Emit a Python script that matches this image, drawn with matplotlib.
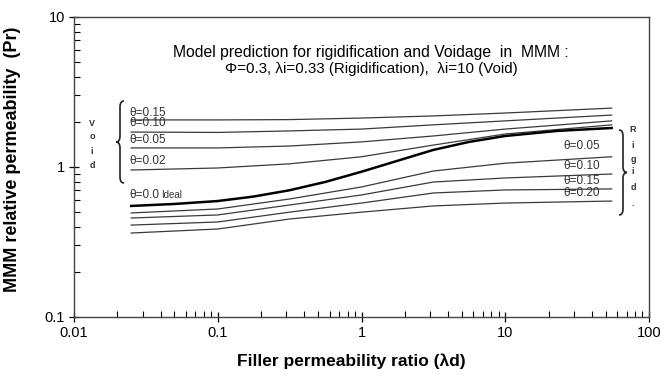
import matplotlib
matplotlib.use("Agg")
import numpy as np
import matplotlib.pyplot as plt
from matplotlib.path import Path
from matplotlib.patches import PathPatch
from matplotlib.transforms import IdentityTransform
from matplotlib.ticker import LogLocator, NullFormatter, FixedFormatter, FixedLocator

plt.rcParams['font.family'] = ['Liberation Sans', 'DejaVu Sans']

# filler permeability ratio (x) shared by the theta curves
lam_d = [0.025, 0.1, 0.316, 1.0, 3.16, 10.0, 55.0]

# voidage curves (theta)
void_theta = ['0.15', '0.10', '0.05', '0.02']
void_pr = [
    [2.06, 2.06, 2.07, 2.12, 2.19, 2.29, 2.47],
    [1.71, 1.70, 1.74, 1.79, 1.91, 2.03, 2.22],
    [1.34, 1.34, 1.38, 1.47, 1.61, 1.79, 2.03],
    [0.955, 0.985, 1.05, 1.17, 1.40, 1.66, 1.91],
]

# ideal (theta = 0), read at more points
lam_ideal = [0.025, 0.05, 0.1, 0.177, 0.316, 0.56, 1.0, 1.78, 3.16, 5.6, 10.0, 23.0, 55.0]
ideal_pr = [0.55, 0.567, 0.593, 0.635, 0.70, 0.795, 0.93, 1.10, 1.30, 1.47, 1.61, 1.74, 1.82]

# rigidification curves (theta)
rigid_theta = ['0.05', '0.10', '0.15', '0.20']
rigid_pr = [
    [0.494, 0.525, 0.612, 0.736, 0.94, 1.06, 1.17],
    [0.457, 0.479, 0.558, 0.651, 0.794, 0.845, 0.898],
    [0.41, 0.43, 0.50, 0.575, 0.671, 0.703, 0.714],
    [0.363, 0.386, 0.45, 0.50, 0.55, 0.575, 0.593],
]

W, H = 665, 376
fig = plt.figure(figsize=(W / 100, H / 100), dpi=100)
ax = fig.add_axes([74 / W, 1 - 317 / H, (649 - 74) / W, (317 - 17) / H])

for pr in void_pr:
    ax.plot(lam_d, pr, color='#3a3a3a', lw=0.9)
ax.plot(lam_ideal, ideal_pr, color='black', lw=1.8)
for pr in rigid_pr:
    ax.plot(lam_d, pr, color='#3a3a3a', lw=0.9)

ax.set_xscale('log')
ax.set_yscale('log')
ax.set_xlim(0.01, 100)
ax.set_ylim(0.1, 10)

ax.xaxis.set_major_locator(FixedLocator([0.01, 0.1, 1, 10, 100]))
ax.xaxis.set_major_formatter(FixedFormatter(['0.01', '0.1', '1', '10', '100']))
ax.yaxis.set_major_locator(FixedLocator([0.1, 1, 10]))
ax.yaxis.set_major_formatter(FixedFormatter(['0.1', '1', '10']))
for a in (ax.xaxis, ax.yaxis):
    a.set_minor_locator(LogLocator(base=10, subs=np.arange(2, 10)))
    a.set_minor_formatter(NullFormatter())
ax.tick_params(which='major', direction='inout', length=7, width=0.9, labelsize=10.5,
               top=False, right=False, pad=3)
ax.tick_params(which='minor', direction='in', length=4, width=0.8, top=False, right=False)
for s in ax.spines.values():
    s.set_linewidth(1.0)
    s.set_color('#444444')

ax.set_xlabel('Filler permeability ratio (λd)', fontsize=12.5, fontweight='bold')
ax.xaxis.set_label_coords(0.482, -0.122)
ax.set_ylabel('MMM relative permeability  (Pr)', fontsize=13, fontweight='bold')
ax.yaxis.set_label_coords(-0.093, 0.527)

# title block
ax.text(0.517, 0.883, 'Model prediction for rigidification and Voidage  in  MMM :',
        transform=ax.transAxes, ha='center', va='center', fontsize=11.3)
ax.text(0.517, 0.828, 'Φ=0.3, λi=0.33 (Rigidification),  λi=10 (Void)',
        transform=ax.transAxes, ha='center', va='center', fontsize=10.9)

px = IdentityTransform()
lab_col = '#333333'

# left labels (void)
for t, y in zip(void_theta, [112.5, 123.5, 140, 161]):
    fig.text(129 / W, 1 - y / H, 'θ=' + t, ha='left', va='center', fontsize=8.5, color=lab_col)
fig.text(129 / W, 1 - 195 / H, 'θ=0.0', ha='left', va='center', fontsize=8.5, color=lab_col)
fig.text(161 / W, 1 - 195 / H, 'Ideal', ha='left', va='center', fontsize=7, color=lab_col)

# right labels (rigid)
for t, y in zip(rigid_theta, [146, 166, 181, 193]):
    fig.text(563 / W, 1 - y / H, 'θ=' + t, ha='left', va='center', fontsize=8.5, color=lab_col)

# vertical words
for ch, y in zip('Void', [123, 137, 151, 166]):
    fig.text(92 / W, 1 - y / H, ch, ha='center', va='center', fontsize=6.5,
             fontweight='bold', color=lab_col)
for ch, y in zip('Rigid.', [130, 145, 159, 172, 187, 203]):
    fig.text(633 / W, 1 - y / H, ch, ha='center', va='center', fontsize=6.5,
             fontweight='bold', color=lab_col)


def brace(xc, ytop, ybot, w, r=6):
    # w > 0 : tip points left  ({), w < 0 : tip points right (})
    yt, yb = H - ytop, H - ybot
    ym = (yt + yb) / 2
    verts = [(xc + w / 2, yt), (xc, yt), (xc, yt - r),
             (xc, ym + r), (xc, ym), (xc - w / 2, ym),
             (xc, ym), (xc, ym - r),
             (xc, yb + r), (xc, yb), (xc + w / 2, yb)]
    codes = [Path.MOVETO, Path.CURVE3, Path.CURVE3,
             Path.LINETO, Path.CURVE3, Path.CURVE3,
             Path.CURVE3, Path.CURVE3,
             Path.LINETO, Path.CURVE3, Path.CURVE3]
    fig.patches.append(PathPatch(Path(verts, codes), transform=px, fill=False,
                                 lw=1.2, edgecolor='#222222'))


brace(120, 101, 183, 8)
brace(623, 130, 215, -8)

fig.savefig('out.png', dpi=100)
